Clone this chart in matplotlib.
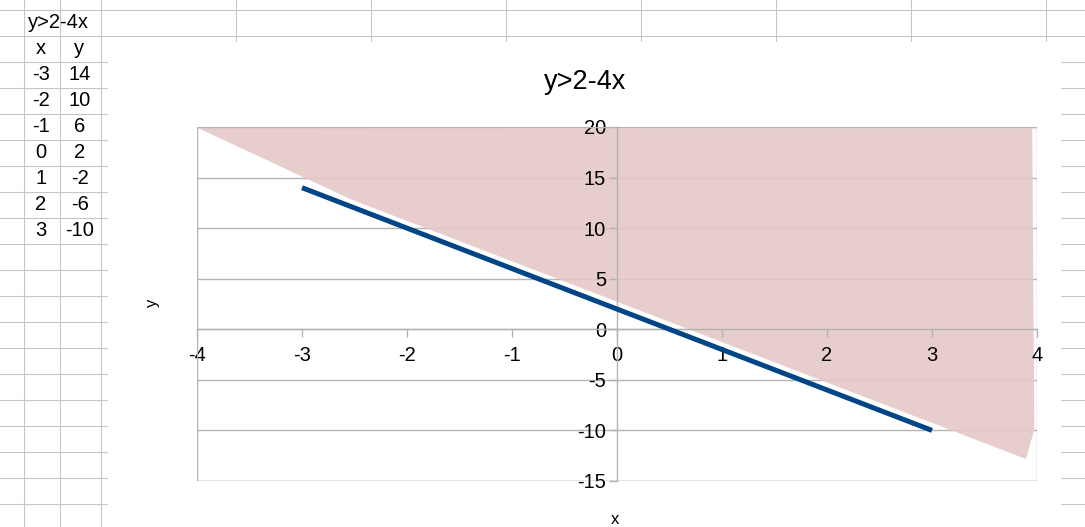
import matplotlib.pyplot as plt
from matplotlib.patches import Rectangle

plt.rcParams["font.family"] = ["Liberation Sans", "DejaVu Sans"]
plt.rcParams["axes.unicode_minus"] = False

# table / series data
x_vals = [-3, -2, -1, 0, 1, 2, 3]
y_vals = [14, 10, 6, 2, -2, -6, -10]
title = "y>2-4x"

# hand drawn shaded region (y > 2-4x)
shade_x = [-3.99, -2.54, 0.0, 3.895, 3.975, 3.955]
shade_y = [19.9, 12.87, 2.73, -12.83, -9.9, 19.85]

x_ticks = [-4, -3, -2, -1, 0, 1, 2, 3, 4]
y_ticks = [-15, -10, -5, 0, 5, 10, 15, 20]

W, H = 1085, 527
LINE_COLOR = "#004586"
SHADE_COLOR = "#e6c8c8"
GRID_COLOR = "#b3b3b3"
CELL_COLOR = "#c6c6c6"

fig = plt.figure(figsize=(W / 100, H / 100), dpi=100)

# spreadsheet background in pixel coordinates
bg = fig.add_axes([0, 0, 1, 1])
bg.set_xlim(0, W)
bg.set_ylim(H, 0)
bg.axis("off")

col_edges = [24, 60, 101, 236, 371, 506, 641, 776, 911, 1046]
row_edges = [9.5 + 26 * k for k in range(21)]
for c in col_edges:
    bg.plot([c, c], [0, H], color=CELL_COLOR, lw=0.8)
for r in row_edges:
    bg.plot([0, W], [r, r], color=CELL_COLOR, lw=0.8)

# chart area covers the cells
bg.add_patch(Rectangle((108, 42), 1060 - 108, H - 42, color="white", zorder=2))

cell_font = 14.5
bg.text(58, 23, title, ha="center", va="center", fontsize=cell_font)
bg.text(41, 49, "x", ha="center", va="center", fontsize=cell_font)
bg.text(79, 49, "y", ha="center", va="center", fontsize=cell_font)
for i, (xv, yv) in enumerate(zip(x_vals, y_vals)):
    yc = 75 + 26 * i
    bg.text(41, yc, str(xv), ha="center", va="center", fontsize=cell_font)
    bg.text(80, yc, str(yv), ha="center", va="center", fontsize=cell_font)

# chart
ax = fig.add_axes([197 / W, 1 - 481 / H, 840 / W, 354 / H])
ax.set_xlim(-4, 4)
ax.set_ylim(-15, 20)
ax.patch.set_alpha(0)

ax.set_yticks(y_ticks)
ax.set_xticks(x_ticks)
ax.set_axisbelow(True)
# gridlines drawn by hand so the shading can sit on top of them
for yt in y_ticks:
    ax.axhline(yt, color=GRID_COLOR, lw=1, zorder=0.3)

for side in ["top", "right"]:
    ax.spines[side].set_visible(False)
ax.spines["left"].set_position(("data", 0))
ax.spines["bottom"].set_position(("data", 0))
for side in ["left", "bottom"]:
    ax.spines[side].set_color(GRID_COLOR)
    ax.spines[side].set_linewidth(1)
ax.add_patch(Rectangle((0, 0), 1, 1, transform=ax.transAxes, fill=False,
                       ec=GRID_COLOR, lw=1, zorder=1))

ax.tick_params(axis="both", direction="out", length=6, width=1,
               color=GRID_COLOR, labelsize=14.5, labelcolor="black")
ax.tick_params(axis="x", pad=6)
ax.tick_params(axis="y", pad=2)

# shading sits under the axis so tick labels stay readable
ax.fill(shade_x, shade_y, color=SHADE_COLOR, alpha=0.9, lw=0, zorder=0.4)
ax.plot(x_vals, y_vals, color=LINE_COLOR, lw=3.6, solid_capstyle="butt", zorder=3)

fig.text(585 / W, 1 - 82 / H, title, ha="center", va="center", fontsize=19.5)
fig.text(153 / W, 1 - 303 / H, "y", ha="center", va="center", fontsize=12, rotation=90)
fig.text(615 / W, 1 - 519 / H, "x", ha="center", va="center", fontsize=12)

fig.savefig("out.png", dpi=100)
